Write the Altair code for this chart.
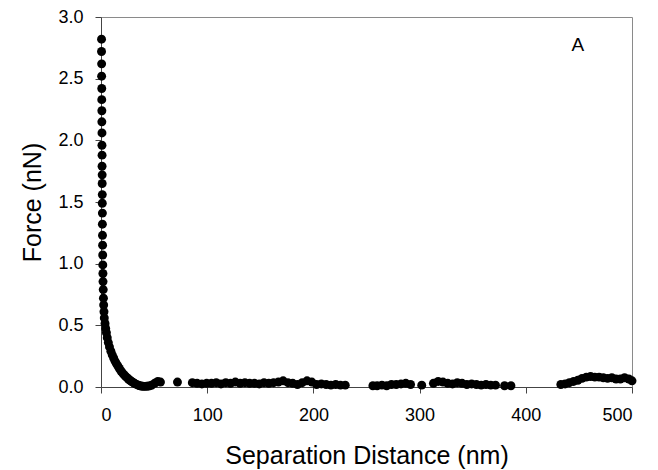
import altair as alt
import pandas as pd

# Steep (contact) region
steep_x = [0.5, 0.5, 0.6, 0.6, 0.7, 0.7, 0.8, 0.8, 0.9, 0.9,
           1.0, 1.0, 1.1, 1.1, 1.2, 1.2, 1.3, 1.3, 1.4, 1.5,
           1.6, 1.7, 1.8, 1.9, 2.1, 2.3, 2.5, 2.8, 3.1]
steep_y = [2.82, 2.72, 2.62, 2.52, 2.42, 2.33, 2.24, 2.15, 2.06, 1.96,
           1.88, 1.79, 1.72, 1.65, 1.56, 1.49, 1.41, 1.32, 1.23, 1.15,
           1.07, 0.99, 0.92, 0.855, 0.79, 0.72, 0.665, 0.61, 0.56]

# Decay region
decay_x = [3.8, 4.4, 5.1, 5.9, 6.9, 8.0, 9.3, 10.6, 11.9, 13.2,
           14.5, 15.9, 17.3, 18.8, 20.2, 21.6, 23.0, 24.4, 25.8, 27.2,
           28.6, 30.0, 31.5, 33.0, 34.5, 36.0, 37.6, 39.3, 41.0, 43.0,
           45.0, 47.5, 50.5, 53.5, 56.0]
decay_y = [0.515, 0.475, 0.44, 0.40, 0.36, 0.325, 0.29, 0.26, 0.235, 0.21,
           0.19, 0.17, 0.15, 0.13, 0.115, 0.10, 0.088, 0.076, 0.065, 0.055,
           0.046, 0.038, 0.03, 0.023, 0.017, 0.012, 0.008, 0.006, 0.005, 0.006,
           0.008, 0.014, 0.03, 0.045, 0.04]

# Baseline region
flat_x = [72.0, 86.0, 90.5, 95.0, 99.5, 104.0, 108.5, 113.0, 117.5, 122.0,
          126.5, 131.0, 135.5, 140.0, 144.5, 149.0, 153.5, 158.0, 162.5, 167.0,
          171.5, 176.0, 180.5, 185.0, 189.5, 194.0, 198.5, 203.0, 207.5, 212.0,
          216.5, 221.0, 225.5, 230.0,
          256.0, 260.0, 264.5, 269.0, 273.5, 278.0, 282.5, 287.0, 291.5,
          302.0,
          313.0, 317.5, 322.0, 326.5, 331.0, 335.5, 340.0, 344.5, 349.0, 353.5,
          358.0, 362.5, 367.0, 371.5,
          380.0, 386.0,
          433.0, 437.0, 441.0, 445.0, 449.0, 453.0, 457.0, 461.0, 465.0, 469.0,
          473.0, 477.0, 481.0, 485.0, 489.0, 493.0, 497.0, 500.0]
flat_y = [0.04, 0.035, 0.03, 0.025, 0.03, 0.03, 0.035, 0.025, 0.035, 0.03,
          0.04, 0.03, 0.035, 0.03, 0.03, 0.025, 0.035, 0.03, 0.035, 0.04,
          0.05, 0.035, 0.03, 0.02, 0.035, 0.05, 0.04, 0.02, 0.025, 0.02,
          0.015, 0.02, 0.015, 0.015,
          0.01, 0.01, 0.015, 0.01, 0.02, 0.02, 0.025, 0.03, 0.02,
          0.015,
          0.03, 0.045, 0.04, 0.03, 0.025, 0.035, 0.03, 0.02, 0.025, 0.02,
          0.015, 0.02, 0.015, 0.015,
          0.01, 0.01,
          0.02, 0.025, 0.035, 0.045, 0.055, 0.07, 0.08, 0.085, 0.08, 0.08,
          0.075, 0.07, 0.075, 0.065, 0.065, 0.075, 0.065, 0.05]

x_ticks = [0, 100, 200, 300, 400, 500]
y_ticks = [0.0, 0.5, 1.0, 1.5, 2.0, 2.5, 3.0]

panel_label = ["A"]
panel_label_x = [449]
panel_label_y = [2.77]

FONT = "Liberation Sans"

df = pd.DataFrame({
    "dist": steep_x + decay_x + flat_x,
    "force": steep_y + decay_y + flat_y,
})
lab = pd.DataFrame({"t": panel_label, "x": panel_label_x, "y": panel_label_y})

xscale = alt.Scale(domain=[0, 500], nice=False)
yscale = alt.Scale(domain=[0, 3.0], nice=False)

points = alt.Chart(df).mark_circle(size=80, color="#000000", opacity=1).encode(
    x=alt.X("dist:Q", scale=xscale,
            axis=alt.Axis(title="Separation Distance (nm)", values=x_ticks,
                          grid=False, tickSize=6, labelPadding=13,
                          labelFontSize=18, titleFontSize=25,
                          titleY=76, titleBaseline="alphabetic",
                          domainColor="#444444", tickColor="#444444")),
    y=alt.Y("force:Q", scale=yscale,
            axis=alt.Axis(title="Force (nN)", values=y_ticks, format=".1f",
                          grid=False, tickSize=6, labelPadding=12,
                          labelFontSize=18, titleFontSize=25,
                          titleX=-61, titleY=185, titleAngle=-90,
                          titleBaseline="alphabetic",
                          domainColor="#444444", tickColor="#444444")),
)

text = alt.Chart(lab).mark_text(fontSize=19, font=FONT, color="#000000").encode(
    x=alt.X("x:Q", scale=xscale),
    y=alt.Y("y:Q", scale=yscale),
    text="t:N",
)

chart = alt.layer(points, text).properties(
    width=531, height=370,
    autosize=alt.AutoSizeParams(type="none"),
    padding={"left": 93, "top": 9, "right": 10, "bottom": 83},
).configure_view(
    stroke="#8a8a8a", strokeWidth=1
).configure_axis(
    labelFont=FONT, titleFont=FONT, labelColor="#000000", titleColor="#000000",
    titleFontWeight="normal"
)

chart.save("out.html", embed_options={"renderer": "svg", "actions": False})
